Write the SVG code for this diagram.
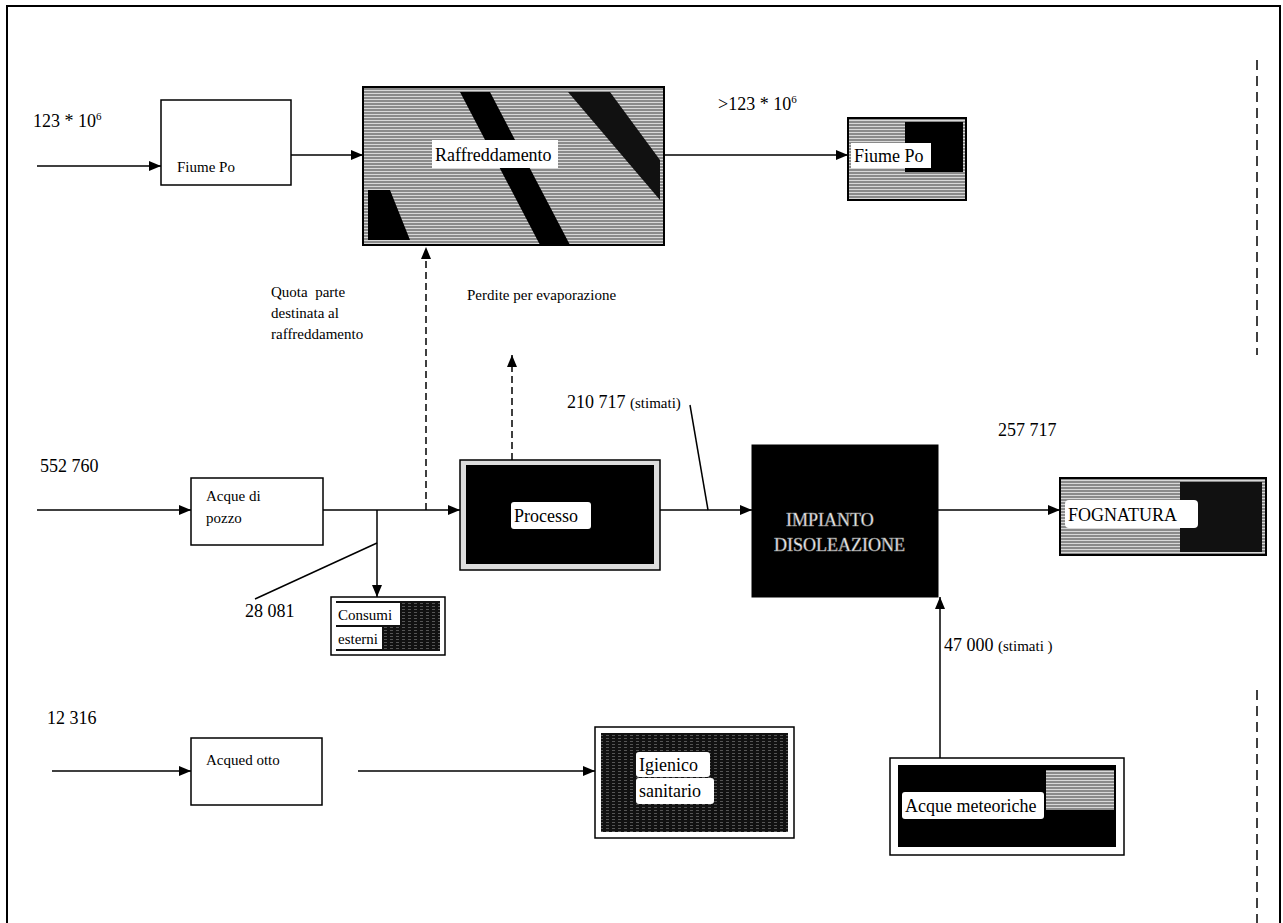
<svg xmlns="http://www.w3.org/2000/svg" width="1283" height="923" viewBox="0 0 1283 923">
<defs>
<style>
.t{font-family:"Liberation Serif","Times New Roman",serif;fill:#000}
.n{font-size:18px}
.s{font-size:15px}
.box{fill:#fff;stroke:#000;stroke-width:1.5}
.c{stroke:#000;stroke-width:1.5;fill:none}
.d{stroke:#000;stroke-width:1.5;fill:none;stroke-dasharray:7 4}
.lbl{fill:#fff}
</style>
<marker id="ah" viewBox="0 0 12 10" refX="12" refY="5" markerWidth="12" markerHeight="10" markerUnits="userSpaceOnUse" orient="auto">
<path d="M0,0 L12,5 L0,10 Z" fill="#000"/>
</marker>
<pattern id="hatch" width="6" height="3" patternUnits="userSpaceOnUse">
<rect width="6" height="3" fill="#8a8a8a"/>
<rect width="6" height="1" fill="#d8d8d8"/>
</pattern>
<pattern id="dark" width="6" height="3" patternUnits="userSpaceOnUse">
<rect width="6" height="3" fill="#111"/>
<rect width="3" height="1" fill="#555"/>
</pattern>
</defs>

<path d="M7,923 V6 H1280 V923" fill="none" stroke="#000" stroke-width="2"/>
<path d="M1257,60 V355 M1257,690 V923" fill="none" stroke="#000" stroke-width="1.5" stroke-dasharray="10 6"/>

<g id="connectors">
<line class="c" x1="37" y1="166" x2="161" y2="166" marker-end="url(#ah)"/>
<line class="c" x1="291" y1="155" x2="363" y2="155" marker-end="url(#ah)"/>
<line class="c" x1="664" y1="155" x2="848" y2="155" marker-end="url(#ah)"/>
<line class="d" x1="426" y1="510" x2="426" y2="247" marker-end="url(#ah)"/>
<line class="d" x1="512" y1="460" x2="512" y2="355" marker-end="url(#ah)"/>
<line class="c" x1="37" y1="510" x2="191" y2="510" marker-end="url(#ah)"/>
<line class="c" x1="323" y1="510" x2="460" y2="510" marker-end="url(#ah)"/>
<line class="c" x1="377" y1="510" x2="377" y2="597" marker-end="url(#ah)"/>
<line class="c" x1="377" y1="543" x2="255" y2="599" stroke-width="1.2"/>
<line class="c" x1="660" y1="510" x2="752" y2="510" marker-end="url(#ah)"/>
<line class="c" x1="708" y1="510" x2="690" y2="405" stroke-width="1.2"/>
<line class="c" x1="938" y1="510" x2="1060" y2="510" marker-end="url(#ah)"/>
<line class="c" x1="940" y1="758" x2="940" y2="597" marker-end="url(#ah)"/>
<line class="c" x1="52" y1="771" x2="191" y2="771" marker-end="url(#ah)"/>
<line class="c" x1="358" y1="771" x2="595" y2="771" marker-end="url(#ah)"/>
</g>

<g id="fiume-po-in">
<rect class="box" x="161" y="100" width="130" height="85"/>
<text class="t s" x="177" y="172" font-family="Liberation Serif, serif">Fiume Po</text>
</g>

<g id="raffreddamento">
<rect x="363" y="87" width="301" height="158" fill="url(#hatch)" stroke="#000" stroke-width="2"/>
<polygon points="460,92 490,92 570,245 540,245" fill="#000"/>
<polygon points="568,92 610,92 660,160 660,200" fill="#111"/>
<polygon points="368,190 390,190 410,240 368,240" fill="#000"/>
<rect x="432" y="140" width="126" height="28" class="lbl"/>
<text class="t n" x="435" y="161" font-family="Liberation Serif, serif">Raffreddamento</text>
</g>

<g id="fiume-po-out">
<rect x="848" y="118" width="118" height="82" fill="url(#hatch)" stroke="#000" stroke-width="2"/>
<rect x="905" y="122" width="58" height="50" fill="#000"/>
<rect x="851" y="143" width="80" height="25" class="lbl"/>
<text class="t n" x="854" y="162" font-family="Liberation Serif, serif">Fiume Po</text>
</g>

<g id="acque-pozzo">
<rect class="box" x="191" y="478" width="132" height="67"/>
<text class="t s" x="206" y="501" font-family="Liberation Serif, serif">Acque di</text>
<text class="t s" x="206" y="523" font-family="Liberation Serif, serif">pozzo</text>
</g>

<g id="processo">
<rect x="460" y="460" width="200" height="110" fill="#ddd" stroke="#000" stroke-width="1.5"/>
<rect x="466" y="465" width="188" height="99" fill="#000"/>
<rect x="511" y="502" width="80" height="27" class="lbl" rx="3"/>
<text class="t n" x="514" y="522" font-family="Liberation Serif, serif">Processo</text>
</g>

<g id="consumi-esterni">
<rect x="331" y="597" width="114" height="58" fill="#fff" stroke="#000" stroke-width="1.5"/>
<rect x="336" y="601" width="104" height="50" fill="url(#dark)"/>
<rect x="336" y="603" width="64" height="22" class="lbl"/>
<rect x="336" y="627" width="46" height="22" class="lbl"/>
<text class="t s" x="338" y="620" font-family="Liberation Serif, serif">Consumi</text>
<text class="t s" x="338" y="644" font-family="Liberation Serif, serif">esterni</text>
</g>

<g id="impianto-disoleazione">
<rect x="752" y="445" width="186" height="152" fill="#000" stroke="#000"/>
<text class="t n" x="786" y="526" font-family="Liberation Serif, serif" style="fill:#fff;stroke:#888;stroke-width:0.6">IMPIANTO</text>
<text class="t n" x="774" y="551" font-family="Liberation Serif, serif" style="fill:#fff;stroke:#888;stroke-width:0.6">DISOLEAZIONE</text>
</g>

<g id="fognatura">
<rect x="1060" y="478" width="206" height="77" fill="url(#hatch)" stroke="#000" stroke-width="2"/>
<rect x="1180" y="482" width="82" height="70" fill="#111"/>
<rect x="1065" y="500" width="133" height="28" class="lbl" rx="4"/>
<text class="t n" x="1068" y="521" font-family="Liberation Serif, serif">FOGNATURA</text>
</g>

<g id="acque-meteoriche">
<rect x="890" y="758" width="234" height="97" fill="#fff" stroke="#000" stroke-width="1.5"/>
<rect x="898" y="765" width="218" height="82" fill="#000"/>
<rect x="1046" y="770" width="68" height="40" fill="url(#hatch)"/>
<rect x="902" y="792" width="142" height="27" class="lbl" rx="3"/>
<text class="t n" x="905" y="812" font-family="Liberation Serif, serif">Acque meteoriche</text>
</g>

<g id="acquedotto">
<rect class="box" x="191" y="738" width="131" height="67"/>
<text class="t s" x="206" y="765" font-family="Liberation Serif, serif">Acqued otto</text>
</g>

<g id="igienico-sanitario">
<rect x="595" y="727" width="199" height="111" fill="#fff" stroke="#000" stroke-width="1.5"/>
<rect x="601" y="733" width="187" height="99" fill="url(#dark)"/>
<rect x="636" y="752" width="74" height="25" class="lbl" rx="3"/>
<rect x="636" y="778" width="78" height="26" class="lbl" rx="3"/>
<text class="t n" x="639" y="771" font-family="Liberation Serif, serif">Igienico</text>
<text class="t n" x="639" y="797" font-family="Liberation Serif, serif">sanitario</text>
</g>

<g id="labels" font-family="Liberation Serif, serif">
<text class="t n" x="33" y="127">123 * 10<tspan font-size="11" dy="-7">6</tspan></text>
<text class="t n" x="718" y="110">&gt;123 * 10<tspan font-size="11" dy="-7">6</tspan></text>
<text class="t s" x="271" y="297" xml:space="preserve">Quota  parte</text>
<text class="t s" x="271" y="318">destinata al</text>
<text class="t s" x="271" y="339">raffreddamento</text>
<text class="t s" x="467" y="300">Perdite per evaporazione</text>
<text class="t n" x="567" y="408">210 717 <tspan font-size="15">(stimati)</tspan></text>
<text class="t n" x="40" y="472">552 760</text>
<text class="t n" x="245" y="617">28 081</text>
<text class="t n" x="998" y="436">257 717</text>
<text class="t n" x="944" y="651">47 000 <tspan font-size="15">(stimati )</tspan></text>
<text class="t n" x="47" y="724">12 316</text>
</g>
</svg>
